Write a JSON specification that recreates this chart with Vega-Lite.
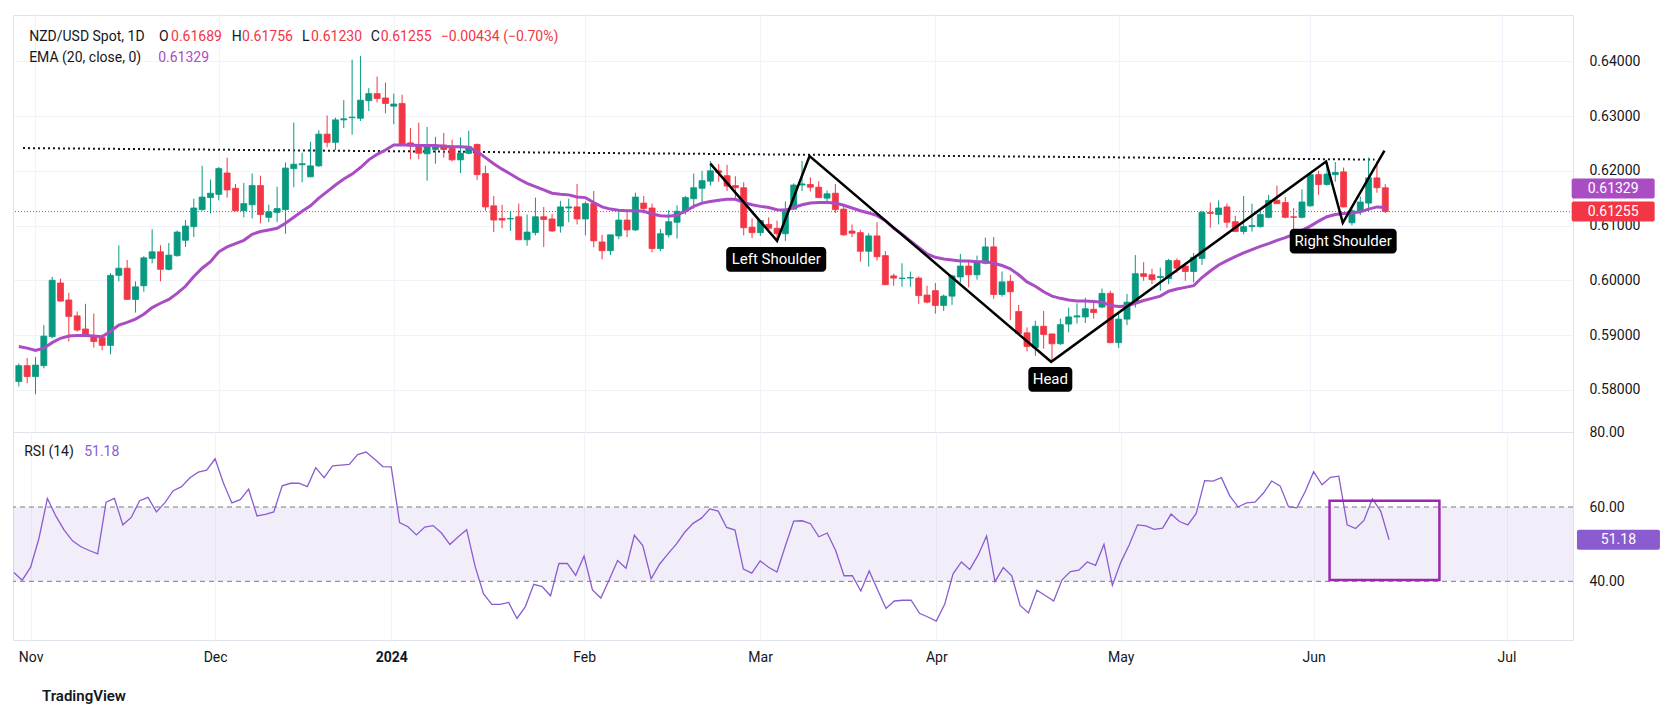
{
"$schema": "https://vega.github.io/schema/vega-lite/v6.json",
"background": "white",
"padding": {"left": 12, "top": 14, "right": 4, "bottom": 4},
"spacing": 0,
"bounds": "flush",
"config": {"font": "Roboto", "view": {"stroke": "#e0e3eb", "strokeWidth": 1}, "axis": {"labelFont": "Roboto"}},
"title": {"text": "TradingView", "orient": "bottom", "anchor": "start", "dx": 30, "offset": 24, "fontSize": 15, "fontWeight": 600, "color": "#131722", "font": "Roboto"},
"datasets": {
"one": [{}],
"neck": [{"i": -1.5, "p": 0.62415}, {"i": 160.7, "p": 0.62205}],
"hs": [{"k": 1, "i": 81.0, "p": 0.6213}, {"k": 2, "i": 89.0, "p": 0.6072}, {"k": 3, "i": 92.9, "p": 0.6227}, {"k": 4, "i": 121.9, "p": 0.5851}, {"k": 5, "i": 154.9, "p": 0.6217}, {"k": 6, "i": 156.9, "p": 0.6105}, {"k": 7, "i": 161.9, "p": 0.6237}],
"tags": [{"label": "Left Shoulder", "i": 88.9, "p": 0.60383}, {"label": "Head", "i": 121.8, "p": 0.58191}, {"label": "Right Shoulder", "i": 156.95, "p": 0.60714}],
"bars": [
{"i":-2,"o":0.5815,"h":0.5848,"l":0.5806,"c":0.5844,"ema":0.5879,"rsi":42.4},
{"i":-1,"o":0.5844,"h":0.5858,"l":0.5812,"c":0.5824,"ema":0.5876,"rsi":40.3},
{"i":0,"o":0.5824,"h":0.5860,"l":0.5792,"c":0.5845,"ema":0.5872,"rsi":43.8},
{"i":1,"o":0.5844,"h":0.5918,"l":0.5839,"c":0.5898,"ema":0.5876,"rsi":51.6},
{"i":2,"o":0.5897,"h":0.6006,"l":0.5894,"c":0.6000,"ema":0.5886,"rsi":62.3},
{"i":3,"o":0.5995,"h":0.6003,"l":0.5961,"c":0.5962,"ema":0.5894,"rsi":57.6},
{"i":4,"o":0.5964,"h":0.5977,"l":0.5888,"c":0.5934,"ema":0.5898,"rsi":53.8},
{"i":5,"o":0.5935,"h":0.5943,"l":0.5906,"c":0.5909,"ema":0.5899,"rsi":50.9},
{"i":6,"o":0.5911,"h":0.5957,"l":0.5897,"c":0.5898,"ema":0.5899,"rsi":49.3},
{"i":7,"o":0.5897,"h":0.5939,"l":0.5877,"c":0.5888,"ema":0.5898,"rsi":48.3},
{"i":8,"o":0.5895,"h":0.5901,"l":0.5872,"c":0.5881,"ema":0.5897,"rsi":47.4},
{"i":9,"o":0.5881,"h":0.6013,"l":0.5865,"c":0.6009,"ema":0.5907,"rsi":61.3},
{"i":10,"o":0.6009,"h":0.6064,"l":0.5998,"c":0.6022,"ema":0.5918,"rsi":62.3},
{"i":11,"o":0.6022,"h":0.6037,"l":0.5965,"c":0.5965,"ema":0.5923,"rsi":55.2},
{"i":12,"o":0.5965,"h":0.5998,"l":0.5941,"c":0.5988,"ema":0.5929,"rsi":57.2},
{"i":13,"o":0.5990,"h":0.6044,"l":0.5979,"c":0.6041,"ema":0.5938,"rsi":61.7},
{"i":14,"o":0.6040,"h":0.6093,"l":0.6031,"c":0.6052,"ema":0.5950,"rsi":62.6},
{"i":15,"o":0.6052,"h":0.6064,"l":0.5998,"c":0.6020,"ema":0.5958,"rsi":58.7},
{"i":16,"o":0.6020,"h":0.6068,"l":0.6018,"c":0.6046,"ema":0.5965,"rsi":61.1},
{"i":17,"o":0.6045,"h":0.6091,"l":0.6043,"c":0.6088,"ema":0.5976,"rsi":64.4},
{"i":18,"o":0.6073,"h":0.6110,"l":0.6061,"c":0.6099,"ema":0.5989,"rsi":65.5},
{"i":19,"o":0.6098,"h":0.6149,"l":0.6079,"c":0.6132,"ema":0.6007,"rsi":67.9},
{"i":20,"o":0.6129,"h":0.6209,"l":0.6127,"c":0.6152,"ema":0.6022,"rsi":69.4},
{"i":21,"o":0.6151,"h":0.6184,"l":0.6122,"c":0.6159,"ema":0.6034,"rsi":69.9},
{"i":22,"o":0.6157,"h":0.6207,"l":0.6146,"c":0.6204,"ema":0.6052,"rsi":73.0},
{"i":23,"o":0.6196,"h":0.6224,"l":0.6151,"c":0.6165,"ema":0.6061,"rsi":66.4},
{"i":24,"o":0.6168,"h":0.6176,"l":0.6126,"c":0.6127,"ema":0.6067,"rsi":61.1},
{"i":25,"o":0.6127,"h":0.6178,"l":0.6115,"c":0.6140,"ema":0.6073,"rsi":62.0},
{"i":26,"o":0.6138,"h":0.6195,"l":0.6113,"c":0.6173,"ema":0.6084,"rsi":64.8},
{"i":27,"o":0.6173,"h":0.6191,"l":0.6104,"c":0.6120,"ema":0.6089,"rsi":57.6},
{"i":28,"o":0.6115,"h":0.6138,"l":0.6106,"c":0.6125,"ema":0.6092,"rsi":58.0},
{"i":29,"o":0.6124,"h":0.6171,"l":0.6106,"c":0.6131,"ema":0.6095,"rsi":58.7},
{"i":30,"o":0.6129,"h":0.6215,"l":0.6085,"c":0.6205,"ema":0.6104,"rsi":65.7},
{"i":31,"o":0.6204,"h":0.6288,"l":0.6170,"c":0.6212,"ema":0.6115,"rsi":66.4},
{"i":32,"o":0.6211,"h":0.6233,"l":0.6179,"c":0.6213,"ema":0.6126,"rsi":66.4},
{"i":33,"o":0.6189,"h":0.6253,"l":0.6188,"c":0.6209,"ema":0.6136,"rsi":65.5},
{"i":34,"o":0.6209,"h":0.6274,"l":0.6207,"c":0.6267,"ema":0.6150,"rsi":70.6},
{"i":35,"o":0.6267,"h":0.6301,"l":0.6243,"c":0.6252,"ema":0.6162,"rsi":67.9},
{"i":36,"o":0.6252,"h":0.6297,"l":0.6238,"c":0.6293,"ema":0.6174,"rsi":71.1},
{"i":37,"o":0.6293,"h":0.6329,"l":0.6278,"c":0.6295,"ema":0.6185,"rsi":71.3},
{"i":38,"o":0.6297,"h":0.6403,"l":0.6266,"c":0.6298,"ema":0.6194,"rsi":71.5},
{"i":39,"o":0.6296,"h":0.6410,"l":0.6291,"c":0.6329,"ema":0.6206,"rsi":74.1},
{"i":40,"o":0.6328,"h":0.6351,"l":0.6309,"c":0.6341,"ema":0.6220,"rsi":74.8},
{"i":41,"o":0.6341,"h":0.6372,"l":0.6325,"c":0.6332,"ema":0.6230,"rsi":72.9},
{"i":42,"o":0.6333,"h":0.6361,"l":0.6305,"c":0.6323,"ema":0.6238,"rsi":70.9},
{"i":43,"o":0.6318,"h":0.6341,"l":0.6285,"c":0.6322,"ema":0.6247,"rsi":70.8},
{"i":44,"o":0.6323,"h":0.6339,"l":0.6249,"c":0.6249,"ema":0.6247,"rsi":55.8},
{"i":45,"o":0.6251,"h":0.6278,"l":0.6221,"c":0.6245,"ema":0.6247,"rsi":54.7},
{"i":46,"o":0.6245,"h":0.6288,"l":0.6221,"c":0.6232,"ema":0.6246,"rsi":52.5},
{"i":47,"o":0.6231,"h":0.6280,"l":0.6182,"c":0.6244,"ema":0.6246,"rsi":54.6},
{"i":48,"o":0.6239,"h":0.6262,"l":0.6213,"c":0.6244,"ema":0.6246,"rsi":55.0},
{"i":49,"o":0.6247,"h":0.6269,"l":0.6224,"c":0.6239,"ema":0.6245,"rsi":53.0},
{"i":50,"o":0.6241,"h":0.6257,"l":0.6217,"c":0.6220,"ema":0.6244,"rsi":49.9},
{"i":51,"o":0.6220,"h":0.6261,"l":0.6196,"c":0.6232,"ema":0.6244,"rsi":52.0},
{"i":52,"o":0.6232,"h":0.6273,"l":0.6230,"c":0.6244,"ema":0.6243,"rsi":53.9},
{"i":53,"o":0.6248,"h":0.6250,"l":0.6183,"c":0.6193,"ema":0.6235,"rsi":44.1},
{"i":54,"o":0.6195,"h":0.6209,"l":0.6127,"c":0.6134,"ema":0.6224,"rsi":36.7},
{"i":55,"o":0.6136,"h":0.6154,"l":0.6088,"c":0.6110,"ema":0.6213,"rsi":33.8},
{"i":56,"o":0.6113,"h":0.6138,"l":0.6095,"c":0.6110,"ema":0.6203,"rsi":33.8},
{"i":57,"o":0.6112,"h":0.6127,"l":0.6090,"c":0.6113,"ema":0.6194,"rsi":34.3},
{"i":58,"o":0.6116,"h":0.6140,"l":0.6074,"c":0.6074,"ema":0.6185,"rsi":30.0},
{"i":59,"o":0.6074,"h":0.6120,"l":0.6063,"c":0.6088,"ema":0.6177,"rsi":33.2},
{"i":60,"o":0.6087,"h":0.6151,"l":0.6082,"c":0.6116,"ema":0.6171,"rsi":39.2},
{"i":61,"o":0.6116,"h":0.6134,"l":0.6061,"c":0.6111,"ema":0.6165,"rsi":38.6},
{"i":62,"o":0.6112,"h":0.6121,"l":0.6088,"c":0.6090,"ema":0.6159,"rsi":36.1},
{"i":63,"o":0.6099,"h":0.6145,"l":0.6087,"c":0.6134,"ema":0.6157,"rsi":44.8},
{"i":64,"o":0.6132,"h":0.6149,"l":0.6106,"c":0.6134,"ema":0.6156,"rsi":44.8},
{"i":65,"o":0.6134,"h":0.6176,"l":0.6102,"c":0.6112,"ema":0.6152,"rsi":41.6},
{"i":66,"o":0.6112,"h":0.6144,"l":0.6082,"c":0.6140,"ema":0.6151,"rsi":46.8},
{"i":67,"o":0.6140,"h":0.6163,"l":0.6060,"c":0.6072,"ema":0.6142,"rsi":37.7},
{"i":68,"o":0.6070,"h":0.6083,"l":0.6038,"c":0.6054,"ema":0.6134,"rsi":35.5},
{"i":69,"o":0.6054,"h":0.6083,"l":0.6046,"c":0.6083,"ema":0.6130,"rsi":40.4},
{"i":70,"o":0.6081,"h":0.6127,"l":0.6075,"c":0.6110,"ema":0.6128,"rsi":45.6},
{"i":71,"o":0.6110,"h":0.6126,"l":0.6079,"c":0.6092,"ema":0.6127,"rsi":43.5},
{"i":72,"o":0.6092,"h":0.6160,"l":0.6090,"c":0.6152,"ema":0.6127,"rsi":52.4},
{"i":73,"o":0.6141,"h":0.6154,"l":0.6122,"c":0.6131,"ema":0.6126,"rsi":49.6},
{"i":74,"o":0.6132,"h":0.6140,"l":0.6051,"c":0.6058,"ema":0.6121,"rsi":40.7},
{"i":75,"o":0.6058,"h":0.6094,"l":0.6053,"c":0.6085,"ema":0.6118,"rsi":44.6},
{"i":76,"o":0.6083,"h":0.6128,"l":0.6078,"c":0.6107,"ema":0.6117,"rsi":47.4},
{"i":77,"o":0.6106,"h":0.6137,"l":0.6076,"c":0.6126,"ema":0.6119,"rsi":50.0},
{"i":78,"o":0.6126,"h":0.6154,"l":0.6120,"c":0.6151,"ema":0.6126,"rsi":53.2},
{"i":79,"o":0.6149,"h":0.6195,"l":0.6131,"c":0.6169,"ema":0.6135,"rsi":55.6},
{"i":80,"o":0.6168,"h":0.6200,"l":0.6143,"c":0.6182,"ema":0.6141,"rsi":57.0},
{"i":81,"o":0.6181,"h":0.6218,"l":0.6173,"c":0.6200,"ema":0.6144,"rsi":59.5},
{"i":82,"o":0.6200,"h":0.6212,"l":0.6180,"c":0.6197,"ema":0.6146,"rsi":58.9},
{"i":83,"o":0.6191,"h":0.6211,"l":0.6163,"c":0.6172,"ema":0.6148,"rsi":54.5},
{"i":84,"o":0.6173,"h":0.6190,"l":0.6145,"c":0.6169,"ema":0.6148,"rsi":53.8},
{"i":85,"o":0.6169,"h":0.6179,"l":0.6082,"c":0.6096,"ema":0.6142,"rsi":43.3},
{"i":86,"o":0.6097,"h":0.6113,"l":0.6077,"c":0.6087,"ema":0.6138,"rsi":42.2},
{"i":87,"o":0.6087,"h":0.6110,"l":0.6081,"c":0.6109,"ema":0.6135,"rsi":45.5},
{"i":88,"o":0.6102,"h":0.6115,"l":0.6087,"c":0.6095,"ema":0.6133,"rsi":43.8},
{"i":89,"o":0.6095,"h":0.6109,"l":0.6075,"c":0.6085,"ema":0.6129,"rsi":42.5},
{"i":90,"o":0.6085,"h":0.6144,"l":0.6072,"c":0.6130,"ema":0.6128,"rsi":49.5},
{"i":91,"o":0.6130,"h":0.6177,"l":0.6129,"c":0.6174,"ema":0.6133,"rsi":56.2},
{"i":92,"o":0.6174,"h":0.6218,"l":0.6163,"c":0.6176,"ema":0.6138,"rsi":56.3},
{"i":93,"o":0.6175,"h":0.6188,"l":0.6162,"c":0.6170,"ema":0.6141,"rsi":55.5},
{"i":94,"o":0.6170,"h":0.6181,"l":0.6150,"c":0.6151,"ema":0.6142,"rsi":52.0},
{"i":95,"o":0.6150,"h":0.6164,"l":0.6141,"c":0.6158,"ema":0.6142,"rsi":53.0},
{"i":96,"o":0.6159,"h":0.6176,"l":0.6123,"c":0.6129,"ema":0.6141,"rsi":48.3},
{"i":97,"o":0.6130,"h":0.6135,"l":0.6081,"c":0.6083,"ema":0.6137,"rsi":41.5},
{"i":98,"o":0.6090,"h":0.6102,"l":0.6079,"c":0.6086,"ema":0.6132,"rsi":41.5},
{"i":99,"o":0.6087,"h":0.6092,"l":0.6034,"c":0.6053,"ema":0.6127,"rsi":37.4},
{"i":100,"o":0.6053,"h":0.6086,"l":0.6025,"c":0.6081,"ema":0.6123,"rsi":42.8},
{"i":101,"o":0.6081,"h":0.6106,"l":0.6036,"c":0.6043,"ema":0.6118,"rsi":37.7},
{"i":102,"o":0.6045,"h":0.6053,"l":0.5991,"c":0.5992,"ema":0.6109,"rsi":32.7},
{"i":103,"o":0.6008,"h":0.6012,"l":0.5990,"c":0.6004,"ema":0.6095,"rsi":34.7},
{"i":104,"o":0.6003,"h":0.6031,"l":0.5988,"c":0.6004,"ema":0.6084,"rsi":34.9},
{"i":105,"o":0.6004,"h":0.6016,"l":0.5988,"c":0.6005,"ema":0.6072,"rsi":34.9},
{"i":106,"o":0.6004,"h":0.6007,"l":0.5957,"c":0.5972,"ema":0.6060,"rsi":31.4},
{"i":107,"o":0.5973,"h":0.5990,"l":0.5958,"c":0.5960,"ema":0.6048,"rsi":30.4},
{"i":108,"o":0.5981,"h":0.5995,"l":0.5939,"c":0.5954,"ema":0.6042,"rsi":29.3},
{"i":109,"o":0.5954,"h":0.5974,"l":0.5944,"c":0.5971,"ema":0.6039,"rsi":33.8},
{"i":110,"o":0.5971,"h":0.6010,"l":0.5955,"c":0.6008,"ema":0.6037,"rsi":42.0},
{"i":111,"o":0.6006,"h":0.6048,"l":0.5996,"c":0.6026,"ema":0.6035,"rsi":45.2},
{"i":112,"o":0.6026,"h":0.6034,"l":0.5987,"c":0.6010,"ema":0.6035,"rsi":43.2},
{"i":113,"o":0.6010,"h":0.6045,"l":0.6001,"c":0.6033,"ema":0.6034,"rsi":47.1},
{"i":114,"o":0.6031,"h":0.6078,"l":0.6029,"c":0.6061,"ema":0.6034,"rsi":52.2},
{"i":115,"o":0.6061,"h":0.6079,"l":0.5966,"c":0.5974,"ema":0.6031,"rsi":39.9},
{"i":116,"o":0.5974,"h":0.6016,"l":0.5970,"c":0.5997,"ema":0.6027,"rsi":43.7},
{"i":117,"o":0.5998,"h":0.6010,"l":0.5927,"c":0.5979,"ema":0.6021,"rsi":41.5},
{"i":118,"o":0.5943,"h":0.5955,"l":0.5901,"c":0.5903,"ema":0.6010,"rsi":33.5},
{"i":119,"o":0.5904,"h":0.5914,"l":0.5870,"c":0.5879,"ema":0.5997,"rsi":31.5},
{"i":120,"o":0.5877,"h":0.5926,"l":0.5862,"c":0.5916,"ema":0.5989,"rsi":37.6},
{"i":121,"o":0.5916,"h":0.5944,"l":0.5875,"c":0.5901,"ema":0.5979,"rsi":36.2},
{"i":122,"o":0.5902,"h":0.5902,"l":0.5851,"c":0.5884,"ema":0.5971,"rsi":34.7},
{"i":123,"o":0.5884,"h":0.5930,"l":0.5882,"c":0.5919,"ema":0.5967,"rsi":40.4},
{"i":124,"o":0.5920,"h":0.5950,"l":0.5905,"c":0.5933,"ema":0.5964,"rsi":42.6},
{"i":125,"o":0.5933,"h":0.5958,"l":0.5921,"c":0.5935,"ema":0.5962,"rsi":43.0},
{"i":126,"o":0.5933,"h":0.5968,"l":0.5922,"c":0.5948,"ema":0.5962,"rsi":45.2},
{"i":127,"o":0.5947,"h":0.5962,"l":0.5930,"c":0.5941,"ema":0.5961,"rsi":44.3},
{"i":128,"o":0.5951,"h":0.5985,"l":0.5949,"c":0.5976,"ema":0.5960,"rsi":50.0},
{"i":129,"o":0.5976,"h":0.5981,"l":0.5885,"c":0.5886,"ema":0.5954,"rsi":38.9},
{"i":130,"o":0.5886,"h":0.5939,"l":0.5876,"c":0.5929,"ema":0.5952,"rsi":45.1},
{"i":131,"o":0.5929,"h":0.5975,"l":0.5918,"c":0.5960,"ema":0.5953,"rsi":49.8},
{"i":132,"o":0.5958,"h":0.6046,"l":0.5950,"c":0.6012,"ema":0.5958,"rsi":55.2},
{"i":133,"o":0.6012,"h":0.6033,"l":0.5999,"c":0.6007,"ema":0.5963,"rsi":54.9},
{"i":134,"o":0.6010,"h":0.6021,"l":0.5993,"c":0.6001,"ema":0.5967,"rsi":54.0},
{"i":135,"o":0.6005,"h":0.6023,"l":0.5981,"c":0.6007,"ema":0.5971,"rsi":54.3},
{"i":136,"o":0.6003,"h":0.6039,"l":0.5993,"c":0.6036,"ema":0.5980,"rsi":58.1},
{"i":137,"o":0.6036,"h":0.6040,"l":0.6014,"c":0.6022,"ema":0.5984,"rsi":56.1},
{"i":138,"o":0.6026,"h":0.6032,"l":0.5999,"c":0.6016,"ema":0.5987,"rsi":55.2},
{"i":139,"o":0.6016,"h":0.6050,"l":0.5996,"c":0.6042,"ema":0.5990,"rsi":58.3},
{"i":140,"o":0.6040,"h":0.6127,"l":0.6028,"c":0.6124,"ema":0.6005,"rsi":67.1},
{"i":141,"o":0.6124,"h":0.6142,"l":0.6096,"c":0.6122,"ema":0.6017,"rsi":67.0},
{"i":142,"o":0.6120,"h":0.6146,"l":0.6102,"c":0.6132,"ema":0.6028,"rsi":67.9},
{"i":143,"o":0.6134,"h":0.6140,"l":0.6096,"c":0.6106,"ema":0.6036,"rsi":63.0},
{"i":144,"o":0.6107,"h":0.6118,"l":0.6088,"c":0.6089,"ema":0.6043,"rsi":60.0},
{"i":145,"o":0.6089,"h":0.6154,"l":0.6084,"c":0.6098,"ema":0.6050,"rsi":61.1},
{"i":146,"o":0.6098,"h":0.6140,"l":0.6089,"c":0.6100,"ema":0.6056,"rsi":61.3},
{"i":147,"o":0.6098,"h":0.6127,"l":0.6096,"c":0.6120,"ema":0.6062,"rsi":63.7},
{"i":148,"o":0.6115,"h":0.6156,"l":0.6113,"c":0.6146,"ema":0.6067,"rsi":67.0},
{"i":149,"o":0.6146,"h":0.6173,"l":0.6139,"c":0.6140,"ema":0.6073,"rsi":65.7},
{"i":150,"o":0.6142,"h":0.6152,"l":0.6113,"c":0.6115,"ema":0.6078,"rsi":60.1},
{"i":151,"o":0.6116,"h":0.6132,"l":0.6090,"c":0.6115,"ema":0.6084,"rsi":59.8},
{"i":152,"o":0.6115,"h":0.6166,"l":0.6113,"c":0.6143,"ema":0.6091,"rsi":64.2},
{"i":153,"o":0.6136,"h":0.6196,"l":0.6134,"c":0.6193,"ema":0.6099,"rsi":69.5},
{"i":154,"o":0.6193,"h":0.6200,"l":0.6156,"c":0.6175,"ema":0.6108,"rsi":66.0},
{"i":155,"o":0.6175,"h":0.6216,"l":0.6173,"c":0.6194,"ema":0.6116,"rsi":68.0},
{"i":156,"o":0.6193,"h":0.6216,"l":0.6180,"c":0.6197,"ema":0.6120,"rsi":68.3},
{"i":157,"o":0.6198,"h":0.6206,"l":0.6133,"c":0.6134,"ema":0.6122,"rsi":55.2},
{"i":158,"o":0.6105,"h":0.6131,"l":0.6100,"c":0.6127,"ema":0.6123,"rsi":54.2},
{"i":159,"o":0.6126,"h":0.6153,"l":0.6119,"c":0.6143,"ema":0.6125,"rsi":56.4},
{"i":160,"o":0.6141,"h":0.6224,"l":0.6125,"c":0.6187,"ema":0.6130,"rsi":62.2},
{"i":161,"o":0.6187,"h":0.6217,"l":0.6160,"c":0.6169,"ema":0.6134,"rsi":58.9},
{"i":162,"o":0.61689,"h":0.61756,"l":0.61230,"c":0.61255,"ema":0.61329,"rsi":51.18}
]
},
"vconcat": [
{
"width": 1560, "height": 417,
"layer": [
{"data": {"name": "one"}, "mark": {"type": "rule", "color": "#f23645", "strokeWidth": 1, "strokeDash": [1, 2]}, "encoding": {"y": {"datum": 0.61255, "type": "quantitative"}}},
{"data": {"name": "neck"}, "mark": {"type": "line", "color": "#131722", "strokeWidth": 2, "strokeDash": [2, 3]}, "encoding": {"x": {"field": "i", "type": "quantitative"}, "y": {"field": "p", "type": "quantitative"}}},
{"data": {"name": "bars"}, "mark": {"type": "rule", "strokeWidth": 1, "clip": true},
 "encoding": {
  "x": {"field": "i", "type": "quantitative", "scale": {"domain": [-2.1, 183.93], "nice": false, "zero": false},
        "axis": {"values": [0, 22, 43, 66, 87, 108, 130, 153, 176], "labels": false, "ticks": false, "domain": false, "grid": true, "gridColor": "#f0f3fa", "title": null}},
  "y": {"field": "l", "type": "quantitative", "scale": {"domain": [0.57228, 0.64846], "nice": false, "zero": false},
        "axis": {"orient": "right", "values": [0.58, 0.59, 0.6, 0.61, 0.62, 0.63, 0.64], "format": ".5f", "ticks": false, "domain": false, "grid": true, "gridColor": "#f0f3fa", "labelPadding": 16, "labelFontSize": 14, "labelColor": "#131722", "labelFlush": false, "title": null}},
  "y2": {"field": "h"},
  "color": {"condition": {"test": "datum.c >= datum.o", "value": "#089981"}, "value": "#f23645"}
 }},
{"data": {"name": "bars"}, "mark": {"type": "bar", "size": 6, "strokeWidth": 0.8, "clip": true},
 "encoding": {
  "x": {"field": "i", "type": "quantitative"},
  "y": {"field": "o", "type": "quantitative"},
  "y2": {"field": "c"},
  "color": {"condition": {"test": "datum.c >= datum.o", "value": "#089981"}, "value": "#f23645"},
  "stroke": {"condition": {"test": "datum.c >= datum.o", "value": "#089981"}, "value": "#f23645"}
 }},
{"data": {"name": "bars"}, "mark": {"type": "line", "color": "#aa4cc4", "strokeWidth": 3, "clip": true}, "encoding": {"x": {"field": "i", "type": "quantitative"}, "y": {"field": "ema", "type": "quantitative"}}},
{"data": {"name": "hs"}, "mark": {"type": "line", "color": "#000000", "strokeWidth": 2.5}, "encoding": {"x": {"field": "i", "type": "quantitative"}, "y": {"field": "p", "type": "quantitative"}, "order": {"field": "k"}}},
{"data": {"name": "tags"}, "mark": {"type": "point", "filled": true, "color": "#000000", "opacity": 1, "size": 610},
 "encoding": {"x": {"field": "i", "type": "quantitative"}, "y": {"field": "p", "type": "quantitative"},
  "shape": {"field": "label", "type": "nominal", "legend": null, "scale": {"domain": ["Left Shoulder", "Head", "Right Shoulder"], "range": [
   "M-3.73,-1H3.73A0.32,0.32 0 0 1 4.05,-0.68V0.68A0.32,0.32 0 0 1 3.73,1H-3.73A0.32,0.32 0 0 1 -4.05,0.68V-0.68A0.32,0.32 0 0 1 -3.73,-1Z",
   "M-1.46,-1H1.46A0.32,0.32 0 0 1 1.78,-0.68V0.68A0.32,0.32 0 0 1 1.46,1H-1.46A0.32,0.32 0 0 1 -1.78,0.68V-0.68A0.32,0.32 0 0 1 -1.46,-1Z",
   "M-4.01,-1H4.01A0.32,0.32 0 0 1 4.33,-0.68V0.68A0.32,0.32 0 0 1 4.01,1H-4.01A0.32,0.32 0 0 1 -4.33,0.68V-0.68A0.32,0.32 0 0 1 -4.01,-1Z"]}}}},
{"data": {"name": "tags"}, "mark": {"type": "text", "color": "#ffffff", "fontSize": 15, "align": "center", "baseline": "middle"}, "encoding": {"x": {"field": "i", "type": "quantitative"}, "y": {"field": "p", "type": "quantitative"}, "text": {"field": "label"}}},
{"data": {"name": "one"}, "mark": {"type": "text", "text": "NZD/USD Spot, 1D", "align": "left", "baseline": "middle", "fontSize": 14, "color": "#131722"}, "encoding": {"x": {"datum": -0.76, "type": "quantitative"}, "y": {"datum": 0.6445, "type": "quantitative"}}},
{"data": {"name": "one"}, "mark": {"type": "text", "text": "O", "align": "left", "baseline": "middle", "fontSize": 14, "color": "#131722"}, "encoding": {"x": {"datum": 14.83, "type": "quantitative"}, "y": {"datum": 0.6445, "type": "quantitative"}}},
{"data": {"name": "one"}, "mark": {"type": "text", "text": "0.61689", "align": "left", "baseline": "middle", "fontSize": 14, "color": "#f23645"}, "encoding": {"x": {"datum": 16.27, "type": "quantitative"}, "y": {"datum": 0.6445, "type": "quantitative"}}},
{"data": {"name": "one"}, "mark": {"type": "text", "text": "H", "align": "left", "baseline": "middle", "fontSize": 14, "color": "#131722"}, "encoding": {"x": {"datum": 23.54, "type": "quantitative"}, "y": {"datum": 0.6445, "type": "quantitative"}}},
{"data": {"name": "one"}, "mark": {"type": "text", "text": "0.61756", "align": "left", "baseline": "middle", "fontSize": 14, "color": "#f23645"}, "encoding": {"x": {"datum": 24.79, "type": "quantitative"}, "y": {"datum": 0.6445, "type": "quantitative"}}},
{"data": {"name": "one"}, "mark": {"type": "text", "text": "L", "align": "left", "baseline": "middle", "fontSize": 14, "color": "#131722"}, "encoding": {"x": {"datum": 32.0, "type": "quantitative"}, "y": {"datum": 0.6445, "type": "quantitative"}}},
{"data": {"name": "one"}, "mark": {"type": "text", "text": "0.61230", "align": "left", "baseline": "middle", "fontSize": 14, "color": "#f23645"}, "encoding": {"x": {"datum": 33.08, "type": "quantitative"}, "y": {"datum": 0.6445, "type": "quantitative"}}},
{"data": {"name": "one"}, "mark": {"type": "text", "text": "C", "align": "left", "baseline": "middle", "fontSize": 14, "color": "#131722"}, "encoding": {"x": {"datum": 40.23, "type": "quantitative"}, "y": {"datum": 0.6445, "type": "quantitative"}}},
{"data": {"name": "one"}, "mark": {"type": "text", "text": "0.61255", "align": "left", "baseline": "middle", "fontSize": 14, "color": "#f23645"}, "encoding": {"x": {"datum": 41.43, "type": "quantitative"}, "y": {"datum": 0.6445, "type": "quantitative"}}},
{"data": {"name": "one"}, "mark": {"type": "text", "text": "−0.00434 (−0.70%)", "align": "left", "baseline": "middle", "fontSize": 14, "color": "#f23645"}, "encoding": {"x": {"datum": 48.64, "type": "quantitative"}, "y": {"datum": 0.6445, "type": "quantitative"}}},
{"data": {"name": "one"}, "mark": {"type": "text", "text": "EMA (20, close, 0)", "align": "left", "baseline": "middle", "fontSize": 14, "color": "#131722"}, "encoding": {"x": {"datum": -0.76, "type": "quantitative"}, "y": {"datum": 0.6406, "type": "quantitative"}}},
{"data": {"name": "one"}, "mark": {"type": "text", "text": "0.61329", "align": "left", "baseline": "middle", "fontSize": 14, "color": "#aa4cc4"}, "encoding": {"x": {"datum": 14.72, "type": "quantitative"}, "y": {"datum": 0.6406, "type": "quantitative"}}},
{"data": {"name": "one"}, "mark": {"type": "point", "filled": true, "opacity": 1, "color": "#f23645", "size": 400, "clip": false, "shape": "M-3.95,-1H3.95A0.2,0.2 0 0 1 4.15,-0.8V0.8A0.2,0.2 0 0 1 3.95,1H-3.95A0.2,0.2 0 0 1 -4.15,0.8V-0.8A0.2,0.2 0 0 1 -3.95,-1Z"}, "encoding": {"x": {"datum": 189.35, "type": "quantitative"}, "y": {"datum": 0.61255, "type": "quantitative"}}},
{"data": {"name": "one"}, "mark": {"type": "point", "filled": true, "opacity": 1, "color": "#aa4cc4", "size": 400, "clip": false, "yOffset": -19, "shape": "M-3.95,-1H3.95A0.2,0.2 0 0 1 4.15,-0.8V0.8A0.2,0.2 0 0 1 3.95,1H-3.95A0.2,0.2 0 0 1 -4.15,0.8V-0.8A0.2,0.2 0 0 1 -3.95,-1Z"}, "encoding": {"x": {"datum": 189.35, "type": "quantitative"}, "y": {"datum": 0.61329, "type": "quantitative"}}},
{"data": {"name": "one"}, "mark": {"type": "text", "text": "0.61255", "align": "center", "baseline": "middle", "fontSize": 14, "color": "#ffffff", "clip": false}, "encoding": {"x": {"datum": 189.35, "type": "quantitative"}, "y": {"datum": 0.61255, "type": "quantitative"}}},
{"data": {"name": "one"}, "mark": {"type": "text", "text": "0.61329", "align": "center", "baseline": "middle", "fontSize": 14, "color": "#ffffff", "clip": false, "dy": -19}, "encoding": {"x": {"datum": 189.35, "type": "quantitative"}, "y": {"datum": 0.61329, "type": "quantitative"}}}
]
},
{
"width": 1560, "height": 208,
"layer": [
{"data": {"name": "one"}, "mark": {"type": "rect", "color": "#7e57c2", "opacity": 0.1}, "encoding": {"y": {"datum": 60, "type": "quantitative"}, "y2": {"datum": 40}}},
{"data": {"name": "one"}, "mark": {"type": "rule", "color": "#787b86", "strokeWidth": 1, "strokeDash": [5, 4]}, "encoding": {"y": {"datum": 60, "type": "quantitative"}}},
{"data": {"name": "one"}, "mark": {"type": "rule", "color": "#787b86", "strokeWidth": 1, "strokeDash": [5, 4]}, "encoding": {"y": {"datum": 40, "type": "quantitative"}}},
{"data": {"name": "bars"}, "mark": {"type": "line", "color": "#8b5cd0", "strokeWidth": 1.3, "clip": true},
 "encoding": {
  "x": {"field": "i", "type": "quantitative", "scale": {"domain": [-2.1, 183.93], "nice": false, "zero": false},
        "axis": {"values": [0, 22, 43, 66, 87, 108, 130, 153, 176], "labelExpr": "datum.value == 0 ? 'Nov' : datum.value == 22 ? 'Dec' : datum.value == 43 ? '2024' : datum.value == 66 ? 'Feb' : datum.value == 87 ? 'Mar' : datum.value == 108 ? 'Apr' : datum.value == 130 ? 'May' : datum.value == 153 ? 'Jun' : 'Jul'",
                 "labelFontWeight": {"condition": {"test": "datum.value == 43", "value": "bold"}, "value": "normal"},
                 "ticks": false, "domain": false, "grid": true, "gridColor": "#f0f3fa", "labelPadding": 10, "labelFontSize": 14, "labelColor": "#131722", "labelOverlap": false, "labelFlush": false, "title": null}},
  "y": {"field": "rsi", "type": "quantitative", "scale": {"domain": [24.2, 80.2], "nice": false, "zero": false},
        "axis": {"orient": "right", "values": [40, 60, 80], "format": ".2f", "ticks": false, "domain": false, "grid": false, "labelPadding": 16, "labelFontSize": 14, "labelColor": "#131722", "labelFlush": false, "title": null}}
 }},
{"data": {"name": "one"}, "mark": {"type": "rect", "fill": null, "fillOpacity": 0, "stroke": "#9c27b0", "strokeWidth": 2.5}, "encoding": {"x": {"datum": 154.9, "type": "quantitative"}, "x2": {"datum": 168.0}, "y": {"datum": 61.7, "type": "quantitative"}, "y2": {"datum": 40.35}}},
{"data": {"name": "one"}, "mark": {"type": "text", "text": "RSI (14)", "align": "left", "baseline": "middle", "fontSize": 14, "color": "#131722"}, "encoding": {"x": {"datum": -0.76, "type": "quantitative"}, "y": {"datum": 74.9, "type": "quantitative"}}},
{"data": {"name": "one"}, "mark": {"type": "text", "text": "51.18", "align": "left", "baseline": "middle", "fontSize": 14, "color": "#8b5cd0"}, "encoding": {"x": {"datum": 6.39, "type": "quantitative"}, "y": {"datum": 74.9, "type": "quantitative"}}},
{"data": {"name": "one"}, "mark": {"type": "point", "filled": true, "opacity": 1, "color": "#8b5cd0", "size": 400, "clip": false, "shape": "M-3.95,-1H3.95A0.2,0.2 0 0 1 4.15,-0.8V0.8A0.2,0.2 0 0 1 3.95,1H-3.95A0.2,0.2 0 0 1 -4.15,0.8V-0.8A0.2,0.2 0 0 1 -3.95,-1Z"}, "encoding": {"x": {"datum": 189.35, "type": "quantitative"}, "y": {"datum": 51.18, "type": "quantitative"}}},
{"data": {"name": "one"}, "mark": {"type": "text", "text": "51.18", "align": "center", "baseline": "middle", "fontSize": 14, "color": "#ffffff", "clip": false}, "encoding": {"x": {"datum": 189.35, "type": "quantitative"}, "y": {"datum": 51.18, "type": "quantitative"}}}
]
}
]
}
